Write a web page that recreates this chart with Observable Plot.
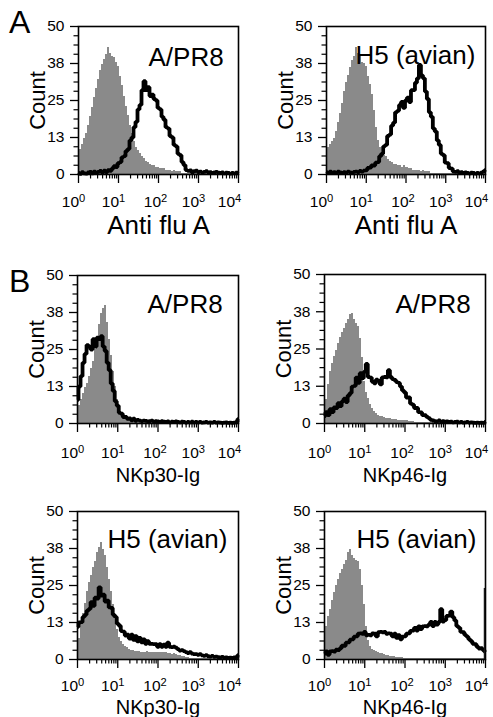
<!DOCTYPE html>
<html><head><meta charset="utf-8">
<script src="https://cdn.jsdelivr.net/npm/d3@7"></script>
<script src="https://cdn.jsdelivr.net/npm/@observablehq/plot@0.6"></script>
<style>
body{margin:0;background:#fff;}
#fig{position:relative;width:493px;height:717px;font-family:"Liberation Sans",Arial,sans-serif;overflow:hidden;background:#fff}
#fig svg{position:absolute;overflow:visible}
.letter{position:absolute;font-size:32px;line-height:1;color:#000}
</style></head><body><div id="fig"></div>
<script>
// log10 fluorescence channel positions (decades)
const decades = [0,0.05,0.1,0.15,0.2,0.25,0.3,0.35,0.4,0.45,
 0.5,0.55,0.6,0.65,0.7,0.75,0.8,0.85,0.9,0.95,
 1,1.05,1.1,1.15,1.2,1.25,1.3,1.35,1.4,1.45,
 1.5,1.55,1.6,1.65,1.7,1.75,1.8,1.85,1.9,1.95,
 2,2.05,2.1,2.15,2.2,2.25,2.3,2.35,2.4,2.45,
 2.5,2.55,2.6,2.65,2.7,2.75,2.8,2.85,2.9,2.95,
 3,3.05,3.1,3.15,3.2,3.25,3.3,3.35,3.4,3.45,
 3.5,3.55,3.6,3.65,3.7,3.75,3.8,3.85,3.9,3.95,4];
const decadeTicks = [0,1,2,3,4];
const countTicks = [0,12.5,25,37.5,50];

// A: anti flu A, A/PR8
const antiFluPR8Control = [7.5,8.5,10,12,14,16.5,19.5,22.5,26,29,
 32,35,37,39,40.5,43,41,40,39.5,38,
 36.5,33,30,26.5,23,20,16.5,14,11,9,
 8,7,6,5.5,4.5,4,3.5,3,3,2.5,
 2.5,2,2,2,1.5,1.5,1.5,1,1.5,1,
 1,1,0.5,0.5,0.5,0.5,0.3,0.3,0.3,0.3,
 0.2,0.2,0.2,0.2,0.2,0.2,0.2,0.2,0.2,0.2,
 0.2,0.2,0.2,0.2,0.2,0.2,0.2,0.2,0.2,0.2,0.2];
const antiFluPR8Stained = [0.5,0.2,0.8,0.4,0.3,0.7,0.9,0.4,1,0.5,
 0.9,1.2,0.6,1.3,0.8,1.5,1.2,2,2.8,2.5,
 3.8,4.2,5.8,6.2,7.9,8.6,11.5,12.5,16,17.8,
 22,23.5,28.5,31.5,28.5,29.5,26.5,27,25.5,25,
 22.5,22,19.5,18.5,16,15.5,13,12.5,10,9.5,
 7,6.5,4.2,3.2,1.5,1.2,1.4,0.7,1.1,1.3,
 0.8,1,0.6,0.9,1.1,0.7,0.8,0.5,0.7,0.9,
 0.6,0.5,0.7,0.4,0.6,0.5,0.3,0.5,0.4,0.6,0.5];
// A: anti flu A, H5 (avian)
const antiFluH5Control = [7.5,9,10,11,12,14.5,17.5,20.5,24,28,
 31,33.5,36,38.5,40,43,41,40,38,37.5,
 36.5,33,30.5,27,21.5,16,11.5,9,7.5,6.5,
 6,5,4.5,4,3.5,3.5,3,3,2.5,3,
 2.5,2.5,2,2,1.5,1.5,1.5,1.5,1,1.5,
 1,1,1,0.5,0.5,0.5,0.5,0.3,0.3,0.3,
 0.3,0.2,0.2,0.2,0.2,0.2,0.2,0.2,0.2,0.2,
 0.2,0.2,0.2,0.2,0.2,0.2,0.2,0.2,0.2,0.2,0.2];
const antiFluH5Stained = [0.8,0.5,1,0.6,0.8,0.5,1,0.7,0.5,0.8,
 0.6,1,0.7,0.5,0.9,1,0.8,1.2,1,1.3,
 1.4,2.2,2.3,3.1,3,4,4.2,6.2,7,9.5,
 10,13,13.5,16.5,17.5,21,21.5,23.5,24.5,22.5,
 25,26,24.5,28.5,28.5,31,32.5,37,33.5,32.5,
 28,25.5,21,19.5,15.5,14.5,11.5,10,7,6.5,
 4,3.8,2.2,2,1,0.9,1.1,0.5,0.8,0.5,
 0.7,0.5,0.4,0.6,0.5,0.3,0.5,0.4,0.6,1,1.5];
// B: NKp30-Ig, A/PR8
const nkp30PR8Control = [4.5,6,8,10,12,13.5,16,18.5,21,25,
 29,33.5,37,39,40,34,28.5,23,17.5,12.5,
 8,4.5,3,2,1.5,1.2,1,0.8,0.6,0.5,
 0.5,0.4,0.3,0.3,0.3,0.3,0.2,0.2,0.2,0.2,
 0.2,0.2,0.2,0.2,0.2,0.2,0.2,0.2,0.2,0.2,
 0.2,0.2,0.2,0.2,0.2,0.2,0.2,0.2,0.2,0.2,
 0.2,0.2,0.2,0.2,0.2,0.2,0.2,0.2,0.2,0.2,
 0.2,0.2,0.2,0.2,0.2,0.2,0.2,0.2,0.2,0.2,0.2];
const nkp30PR8Stained = [8,12.5,16,20.5,23.5,26.5,26,25,28.5,26,
 29,28.5,29.5,26,24.5,20.5,18,13.5,11,7.5,
 6,3.6,3.3,2.2,2.2,1.6,1.7,1.1,1.6,0.9,
 1.2,1,0.8,1,0.9,0.7,0.8,1,0.6,0.8,
 0.7,0.5,0.8,0.6,0.5,0.7,0.4,0.6,0.5,0.7,
 0.5,0.4,0.6,0.5,0.3,0.5,0.4,0.6,0.4,0.5,
 0.4,0.5,0.3,0.4,0.5,0.3,0.4,0.3,0.5,0.3,
 0.4,0.3,0.2,0.3,0.4,0.2,0.3,0.2,0.3,0.5,1.5];
// B: NKp46-Ig, A/PR8
const nkp46PR8Control = [2.5,8,13,17.5,20,22.5,24.5,27,29,30.5,
 32,33.5,35,36.5,37,35,33.5,32.5,28.5,22,
 14,10.5,8.5,6.5,5,4,3.2,2.8,2.4,2.2,
 2,1.8,1.7,1.6,1.5,1.4,1.2,1.1,1,1,
 0.9,0.9,0.8,0.7,0.6,0.5,0.5,0.4,0.4,0.3,
 0.3,0.3,0.3,0.3,0.3,0.3,0.3,0.3,0.3,0.3,
 0.2,0.2,0.2,0.2,0.2,0.2,0.2,0.2,0.2,0.2,
 0.2,0.2,0.2,0.2,0.2,0.2,0.2,0.2,0.2,0.2,0.2];
const nkp46PR8Stained = [2.5,3.8,2.8,4.8,3.8,5.4,5.2,6.8,5.8,7.4,
 8.3,7.2,9.4,10.2,12.4,12.6,15.4,13.6,16.9,15.2,
 17.4,20,15.6,15.4,14,13.5,14.7,14.4,13.1,15.5,
 15.6,15.5,17.9,15.6,14.9,14.6,13.9,13.6,12.4,11.1,
 10.4,8.7,8.8,6.7,6.3,5.2,5.2,3.8,3.7,2.8,
 2.8,2.2,1.8,1.2,1,0.8,0.7,1,0.6,0.8,
 0.6,0.7,0.5,0.6,0.4,0.5,0.6,0.4,0.5,0.3,
 0.4,0.5,0.3,0.4,0.3,0.2,0.3,0.2,0.3,0.2,0.5];
// B: NKp30-Ig, H5 (avian)
const nkp30H5Control = [2,7,12,15.5,19,23,26,28.5,31,33,
 36,38,39.5,37,35,31,27,23,18.5,13.5,
 10,7.5,6,5,4.5,4,3.5,3.2,3,2.8,
 2.8,2.6,2.5,2.5,2.4,2.6,2.5,2.3,2.5,2.4,
 2.5,2.4,2.3,2.2,2.2,2,2,1.8,1.9,1.7,
 1.5,1.3,1.1,0.9,0.8,0.7,0.5,0.5,0.4,0.4,
 0.3,0.3,0.3,0.3,0.3,0.3,0.3,0.3,0.3,0.3,
 0.2,0.2,0.2,0.2,0.2,0.2,0.2,0.2,0.2,0.2,0.2];
const nkp30H5Stained = [11,12.5,12.6,14.4,15.1,16.5,17.1,19.4,18.1,20.9,
 20.6,24.4,21.6,21.9,19.6,19.9,17.6,17.4,15.1,14.4,
 12.1,11.4,9.6,9.4,8.1,8.4,7.1,8.4,6.6,7.9,
 6.1,7.3,5.8,6.8,5.3,6.2,5.3,5.3,5.2,5.2,
 4.3,5.2,4.3,5,4.3,5.7,4.3,4.2,4.3,4,
 3.5,3,3.2,2.8,2.5,2.2,2.5,2,1.8,1.8,
 1.6,1.8,1.4,1.2,1.5,1.1,1,1.2,0.9,1,
 0.8,0.7,0.9,0.6,0.7,0.5,0.6,0.5,0.7,0.8,1.5];
// B: NKp46-Ig, H5 (avian)
const nkp46H5Control = [2,11,14.5,17,20,22.5,25,27,29,30.5,
 32,33.5,36,37,35,34,33.5,33,30.5,25,
 18.5,11,6.5,4.5,3.5,3,2.6,2.3,2,1.9,
 1.7,1.5,1.3,1.1,1,0.9,0.8,0.7,0.7,0.6,
 0.5,0.5,0.4,0.4,0.3,0.3,0.3,0.3,0.3,0.3,
 0.3,0.3,0.3,0.3,0.3,0.3,0.3,0.3,0.3,0.3,
 0.2,0.2,0.2,0.2,0.2,0.2,0.2,0.2,0.2,0.2,
 0.2,0.2,0.2,0.2,0.2,0.2,0.2,0.2,0.2,0.2,0.2];
const nkp46H5Stained = [2,2.7,1.6,2.7,2.8,2.7,3.3,3.2,3.8,4.7,
 4.6,5.7,5.8,6.7,6.8,7.7,7.8,8.7,8.8,8.7,
 9.3,8.2,8.3,8.2,8.8,8.7,7.8,9.2,9.3,9.2,
 9.3,8.7,8.8,8.7,7.8,8.7,7.3,8.2,6.8,7.7,
 7.8,8.7,8.8,9.7,9.8,10.7,9.8,11.2,10.3,11.2,
 11.3,11.2,11.8,12.7,11.3,12.7,11.8,12.7,17,12.8,
 13.3,14.7,14.8,16.2,14.3,13.2,11.3,10.7,9.3,9.2,
 8.3,7.7,6.8,6.2,5.3,5.2,4.3,3.7,3.8,3.2,2.5];
const nkp46H5EndChannel = 24; // pile-up in the last channel

const minorY = d3.range(1,16).filter(k => k % 4).map(k => k * 3.125);
const minorX = d3.range(0,4).flatMap(d => d3.range(2,10).map(k => d + Math.log10(k)));

const panels = [
 {ctrl: antiFluPR8Control, stain: antiFluPR8Stained, virus: "A/PR8", xLabel: "Anti flu A", L:78, T:26, R:238, B:174, vx:70, vy:39, tickDy:32, xlDy:59, xlSize:26},
 {ctrl: antiFluH5Control, stain: antiFluH5Stained, virus: "H5 (avian)", xLabel: "Anti flu A", L:326, T:26, R:485, B:174, vx:29, vy:37, tickDy:32, xlDy:59, xlSize:26},
 {ctrl: nkp30PR8Control, stain: nkp30PR8Stained, virus: "A/PR8", xLabel: "NKp30-Ig", L:77, T:275, R:238, B:423, vx:70, vy:37, tickDy:34, xlDy:58, xlSize:20},
 {ctrl: nkp46PR8Control, stain: nkp46PR8Stained, virus: "A/PR8", xLabel: "NKp46-Ig", L:324, T:274, R:485, B:423, vx:71, vy:38, tickDy:34, xlDy:58, xlSize:20},
 {ctrl: nkp30H5Control, stain: nkp30H5Stained, virus: "H5 (avian)", xLabel: "NKp30-Ig", L:77, T:511, R:238, B:659, vx:30, vy:36, tickDy:31, xlDy:54, xlSize:20},
 {ctrl: nkp46H5Control, stain: nkp46H5Stained, virus: "H5 (avian)", xLabel: "NKp46-Ig", L:324, T:511, R:485, B:659, vx:32, vy:36, tickDy:31, xlDy:54, xlSize:20, endSpike: nkp46H5EndChannel}
];

const fig = document.getElementById("fig");
const FONT = "Liberation Sans, Arial, sans-serif";
const tickShift = {"0": 0, "1": 0, "2": 2, "3": 0, "4": -4};

for (const p of panels) {
  const rows = decades.map((e, i) => ({e, ctrl: p.ctrl[i], stain: p.stain[i]}));
  const mL = 70, mR = 10, mT = 12, mB = 66;
  const w = p.R - p.L, h = p.B - p.T;
  const marks = [
    Plot.areaY(rows, {x: "e", y: "ctrl", curve: "step", fill: "#8a8a8a", shapeRendering: "crispEdges"}),
    Plot.lineY(rows, {x: "e", y: "stain", curve: "step", stroke: "#000", strokeWidth: 3.8, strokeLinejoin: "miter", strokeLinecap: "butt"}),
  ];
  if (p.endSpike) marks.push(Plot.ruleX([3.975], {y1: 0, y2: p.endSpike, stroke: "#222", strokeWidth: 1.5}));
  marks.push(
    Plot.frame({stroke: "#000", strokeWidth: 1.6}),
    Plot.axisY({ticks: minorY, tickSize: 4.5, tickFormat: () => "", label: null, strokeWidth: 1.2}),
    Plot.axisY({ticks: countTicks, tickSize: 8, tickPadding: 6, tickFormat: d => String(Math.round(d)), label: null, strokeWidth: 1.3}),
    Plot.axisX({ticks: minorX, tickSize: 4.5, tickFormat: () => "", label: null, strokeWidth: 1.2}),
    Plot.axisX({ticks: decadeTicks, tickSize: 9, tickFormat: () => "", label: null, strokeWidth: 1.3}),
    Plot.text(decadeTicks, {x: d => d, text: d => "10^" + d, frameAnchor: "bottom", lineAnchor: "bottom", dy: p.tickDy, dx: -5, fontSize: 15.5}),
    Plot.text(["Count"], {frameAnchor: "left", textAnchor: "middle", rotate: -90, dx: -34, lineAnchor: "bottom", fontSize: 22}),
    Plot.text([p.xLabel], {frameAnchor: "bottom", textAnchor: "middle", lineAnchor: "bottom", dy: p.xlDy, fontSize: p.xlSize}),
    Plot.text([p.virus], {frameAnchor: "top-left", textAnchor: "start", lineAnchor: "bottom", dx: p.vx, dy: p.vy, fontSize: 26})
  );
  const svg = Plot.plot({
    width: w + mL + mR, height: h + mT + mB,
    marginLeft: mL, marginRight: mR, marginTop: mT, marginBottom: mB,
    style: {fontFamily: FONT, background: "transparent", color: "#000", overflow: "visible"},
    x: {domain: [0, 4], label: null},
    y: {domain: [0, 50], label: null},
    marks
  });
  const sizeFor = {"Count": 22, [p.xLabel]: p.xlSize, [p.virus]: 26};
  svg.querySelectorAll("text").forEach(t => {
    const txt = t.textContent;
    const m = /^10\^(\d)$/.exec(txt);
    if (m) {
      t.textContent = "10";
      const s = document.createElementNS("http://www.w3.org/2000/svg", "tspan");
      s.setAttribute("dy", "-0.42em");
      s.setAttribute("font-size", "0.72em");
      s.textContent = m[1];
      t.appendChild(s);
      t.setAttribute("dx", tickShift[m[1]]);
      t.style.fontSize = "15.5px";
    } else if (sizeFor[txt]) {
      t.style.fontSize = sizeFor[txt] + "px";
    } else if (/^\d+$/.test(txt)) {
      t.style.fontSize = "15.5px";
    }
    t.style.fontFamily = FONT;
    t.style.fill = "#000";
  });
  svg.style.left = (p.L - mL) + "px";
  svg.style.top = (p.T - mT) + "px";
  fig.appendChild(svg);
}

for (const [txt, top] of [["A", 6], ["B", 265]]) {
  const d = document.createElement("div");
  d.className = "letter";
  d.textContent = txt;
  d.style.left = "9px";
  d.style.top = top + "px";
  fig.appendChild(d);
}
</script></body></html>
